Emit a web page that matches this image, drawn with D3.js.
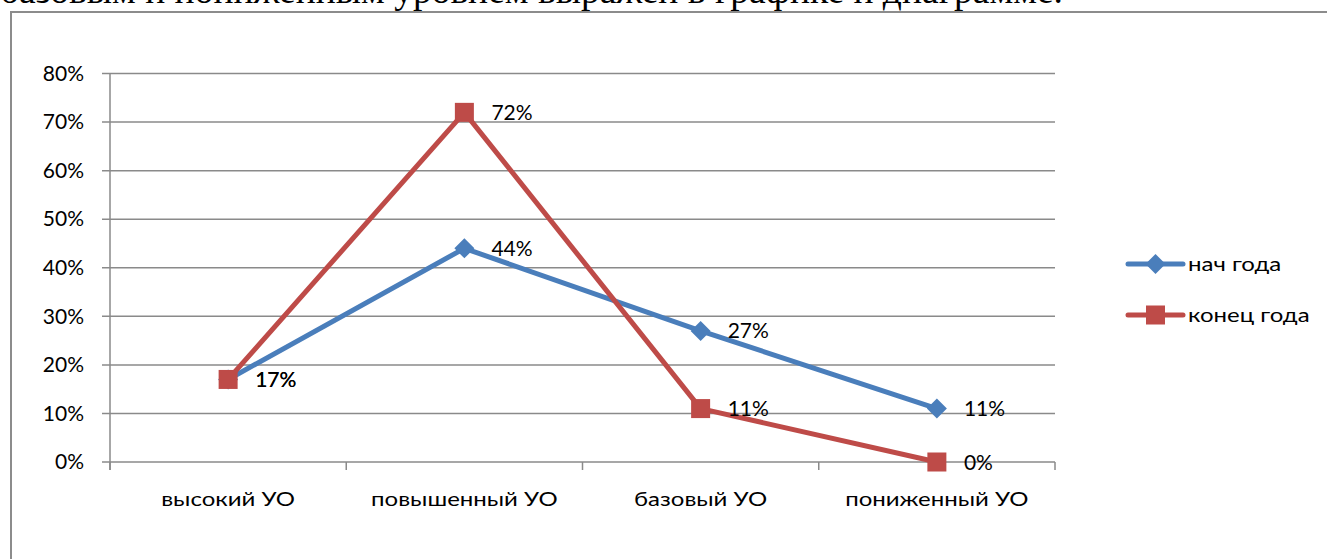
<!DOCTYPE html>
<html><head><meta charset="utf-8">
<script src="https://cdn.jsdelivr.net/npm/d3@7"></script>
<style>
html,body{margin:0;padding:0;background:#fff;overflow:hidden}
svg{display:block}
</style></head>
<body>
<svg id="chart" width="1327" height="559"></svg>
<script>
const categories = ["высокий УО", "повышенный УО", "базовый УО", "пониженный УО"];
const seriesNames = ["нач года", "конец года"];
const startYear = [0.17, 0.44, 0.27, 0.11];
const endYear = [0.17, 0.72, 0.11, 0.00];
const yTicks = [0, 0.1, 0.2, 0.3, 0.4, 0.5, 0.6, 0.7, 0.8];
const titleText = "базовым и пониженным уровнем выражен в графике и диаграмме.";

const colors = ["#4A7EBB", "#BE4B48"];
const font = "Lato, 'Open Sans', sans-serif";
const wordScale = 1.2;
const svg = d3.select("#chart");

// heading text (cut at top)
svg.append("text").attr("x", 0).attr("y", 3)
  .attr("font-family", "'Liberation Serif', 'Times New Roman', serif")
  .attr("font-size", 37).attr("fill", "#000")
  .attr("textLength", 1063).attr("lengthAdjust", "spacingAndGlyphs")
  .text(titleText);

// chart frame
svg.append("rect").attr("x", 11).attr("y", 12).attr("width", 1400).attr("height", 600)
  .attr("fill", "none").attr("stroke", "#8c8c8c").attr("stroke-width", 2);

const x = d3.scaleBand().domain(categories).range([110, 1055]).padding(0);
const y = d3.scaleLinear().domain([0, 0.8]).range([462, 73.5]);
const cx = d => x(d) + x.bandwidth() / 2;

// gridlines
svg.append("g").selectAll("line").data(yTicks).join("line")
  .attr("x1", 102).attr("x2", 1055)
  .attr("y1", d => y(d)).attr("y2", d => y(d))
  .attr("stroke", "#8a8a8a").attr("stroke-width", 1.5);

// y axis
const yAxis = svg.append("g").attr("transform", "translate(110,0)")
  .call(d3.axisLeft(y).tickValues(yTicks).tickFormat(d3.format(".0%")).tickSize(0).tickPadding(26));
yAxis.select(".domain").remove();
yAxis.selectAll("text").attr("font-family", font).attr("font-size", 21).attr("fill", "#000");
svg.append("line").attr("x1", 110).attr("x2", 110).attr("y1", y(0.8)).attr("y2", 470)
  .attr("stroke", "#8a8a8a").attr("stroke-width", 1.5);

// x axis
const xAxis = svg.append("g").attr("transform", `translate(0,${y(0)})`)
  .call(d3.axisBottom(x).tickSize(0).tickPadding(30));
xAxis.select(".domain").remove();
xAxis.selectAll("text").attr("font-family", font).attr("font-size", 20).attr("fill", "#000")
  .attr("transform", `scale(${wordScale},1)`);
const bounds = categories.map(c => x(c)).concat([x(categories[categories.length - 1]) + x.bandwidth()]);
svg.append("g").selectAll("line").data(bounds).join("line")
  .attr("x1", d => d).attr("x2", d => d).attr("y1", y(0)).attr("y2", y(0) + 8)
  .attr("stroke", "#8a8a8a").attr("stroke-width", 1.5);

const series = [startYear, endYear];
const line = d3.line().x((d, i) => cx(categories[i])).y(d => y(d));

function marker(g, s, px, py) {
  if (s === 0) {
    g.append("path").attr("d", `M${px},${py - 10}L${px + 10},${py}L${px},${py + 10}L${px - 10},${py}Z`)
      .attr("fill", colors[0]);
  } else {
    g.append("rect").attr("x", px - 9.5).attr("y", py - 9.5).attr("width", 19).attr("height", 19)
      .attr("fill", colors[1]);
  }
}

series.forEach((vals, s) => {
  svg.append("path").datum(vals).attr("d", line).attr("fill", "none")
    .attr("stroke", colors[s]).attr("stroke-width", 5).attr("stroke-linejoin", "round");
});
series.forEach((vals, s) => {
  const g = svg.append("g");
  vals.forEach((v, i) => marker(g, s, cx(categories[i]), y(v)));
});
series.forEach((vals, s) => {
  svg.append("g").selectAll("text").data(vals).join("text")
    .attr("x", (d, i) => cx(categories[i]) + 27).attr("y", d => y(d))
    .attr("dy", "0.36em")
    .attr("font-family", font).attr("font-size", 21).attr("fill", "#000")
    .text(d => d3.format(".0%")(d));
});

// legend
const leg = svg.append("g");
seriesNames.forEach((n, s) => {
  const ly = 264 + s * 51;
  leg.append("line").attr("x1", 1128).attr("x2", 1183).attr("y1", ly).attr("y2", ly)
    .attr("stroke", colors[s]).attr("stroke-width", 5).attr("stroke-linecap", "round");
  marker(leg, s, 1155.5, ly);
  leg.append("g").attr("transform", `translate(1188,${ly})`)
    .append("text").attr("transform", `scale(${wordScale},1)`).attr("dy", "0.36em")
    .attr("font-family", font).attr("font-size", 20).attr("fill", "#000").text(n);
});
</script>
</body></html>
